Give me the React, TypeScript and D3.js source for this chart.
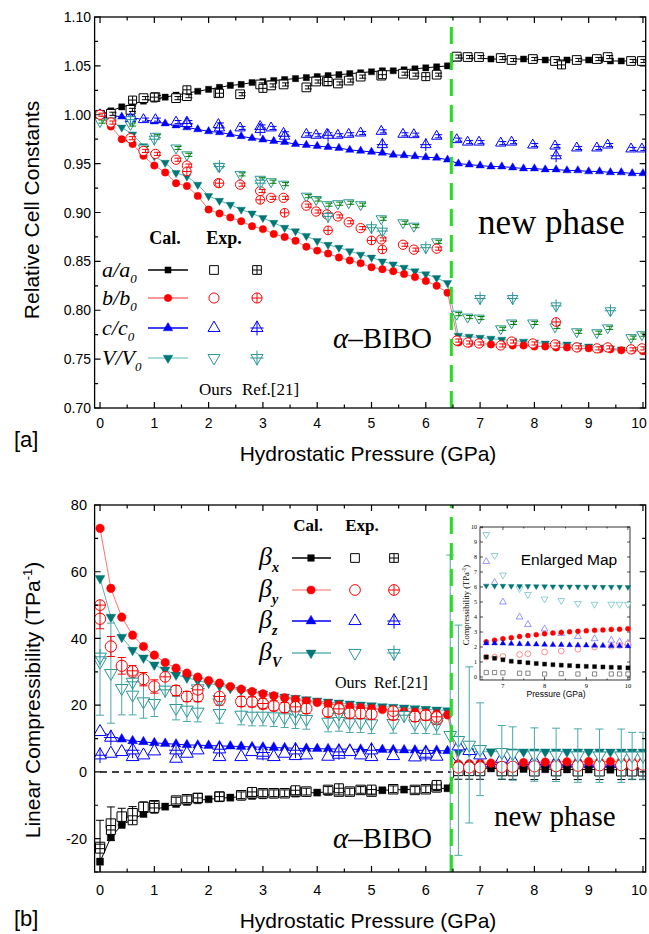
import React from "react";
import * as d3 from "d3";

// ---------------- DATA: top panel (relative cell constants) ----------------
const pCal = [0, 0.2, 0.4, 0.6, 0.8, 1.0, 1.2, 1.4, 1.6, 1.8, 2.0, 2.2, 2.4, 2.6, 2.8, 3.0, 3.2, 3.4, 3.6, 3.8, 4.0, 4.2, 4.4, 4.6, 4.8, 5.0, 5.2, 5.4, 5.6, 5.8, 6.0, 6.2, 6.4, 6.6, 6.8, 7.0, 7.2, 7.4, 7.6, 7.8, 8.0, 8.2, 8.4, 8.6, 8.8, 9.0, 9.2, 9.4, 9.6, 9.8, 10.0];
const aCal = [1.000, 1.004, 1.008, 1.011, 1.014, 1.016, 1.018, 1.020, 1.022, 1.024, 1.026, 1.028, 1.030, 1.031, 1.033, 1.034, 1.035, 1.036, 1.037, 1.038, 1.039, 1.040, 1.041, 1.042, 1.043, 1.044, 1.045, 1.045, 1.046, 1.047, 1.048, 1.049, 1.050, 1.058, 1.058, 1.058, 1.057, 1.057, 1.057, 1.057, 1.057, 1.056, 1.056, 1.056, 1.056, 1.056, 1.056, 1.055, 1.055, 1.055, 1.055];
const bCal = [1.000, 0.988, 0.975, 0.970, 0.958, 0.948, 0.941, 0.930, 0.927, 0.917, 0.903, 0.899, 0.895, 0.891, 0.886, 0.883, 0.878, 0.875, 0.871, 0.865, 0.861, 0.858, 0.854, 0.851, 0.848, 0.844, 0.842, 0.840, 0.837, 0.834, 0.830, 0.825, 0.818, 0.767, 0.766, 0.766, 0.765, 0.765, 0.764, 0.764, 0.763, 0.763, 0.762, 0.762, 0.761, 0.761, 0.760, 0.760, 0.759, 0.759, 0.758];
const cCal = [1.000, 0.999, 0.998, 0.997, 0.995, 0.993, 0.991, 0.989, 0.987, 0.985, 0.983, 0.982, 0.980, 0.978, 0.976, 0.9745, 0.973, 0.972, 0.970, 0.969, 0.968, 0.967, 0.966, 0.964, 0.963, 0.962, 0.961, 0.959, 0.9585, 0.9575, 0.9565, 0.956, 0.954, 0.950, 0.949, 0.948, 0.947, 0.947, 0.946, 0.945, 0.945, 0.944, 0.944, 0.943, 0.943, 0.942, 0.942, 0.941, 0.941, 0.940, 0.940];
const vCal = [1.000, 0.993, 0.987, 0.980, 0.968, 0.9575, 0.951, 0.9405, 0.937, 0.9285, 0.917, 0.912, 0.908, 0.903, 0.899, 0.8945, 0.8895, 0.8845, 0.881, 0.876, 0.871, 0.867, 0.864, 0.8605, 0.857, 0.854, 0.850, 0.847, 0.8436, 0.840, 0.837, 0.833, 0.828, 0.774, 0.773, 0.772, 0.771, 0.770, 0.769, 0.768, 0.767, 0.766, 0.766, 0.765, 0.764, 0.763, 0.762, 0.761, 0.760, 0.760, 0.759];

const expP = [0, 0.2, 0.56, 0.8, 1.02, 1.4, 1.6, 2.18, 2.58, 2.95, 3.15, 3.38, 3.8, 3.98, 4.18, 4.38, 4.58, 4.8, 5.18, 5.58, 5.78, 6.2, 6.57, 6.77, 6.98, 7.38, 7.58, 7.97, 8.38, 8.78, 9.15, 9.35, 9.78, 9.98];
const aExp = [1.000, 1.001, 1.005, 1.017, 1.018, 1.017, 1.019, 1.022, 1.021, 1.031, 1.030, 1.031, 1.028, 1.034, 1.034, 1.032, 1.035, 1.039, 1.040, 1.042, 1.041, 1.041, 1.0595, 1.059, 1.059, 1.058, 1.056, 1.057, 1.055, 1.056, 1.057, 1.059, 1.055, 1.055];
const bExp = [1.000, 0.992, 0.976, 0.963, 0.960, 0.954, 0.948, 0.930, 0.9285, 0.922, 0.915, 0.915, 0.907, 0.901, 0.898, 0.896, 0.890, 0.884, 0.8725, 0.867, 0.862, 0.863, 0.769, 0.767, 0.766, 0.764, 0.768, 0.766, 0.765, 0.762, 0.761, 0.762, 0.760, 0.761];
const cExp = [1.000, 1.000, 1.000, 0.995, 0.995, 0.9925, 0.9925, 0.990, 0.9865, 0.988, 0.9865, 0.981, 0.980, 0.979, 0.980, 0.979, 0.980, 0.9813, 0.983, 0.980, 0.9796, 0.978, 0.9745, 0.972, 0.972, 0.971, 0.972, 0.969, 0.968, 0.966, 0.966, 0.969, 0.965, 0.965];
const vExp = [0.993, 0.993, 0.990, 0.966, 0.978, 0.966, 0.959, 0.9473, 0.939, 0.934, 0.9315, 0.929, 0.9167, 0.9133, 0.908, 0.909, 0.910, 0.908, 0.8936, 0.8895, 0.886, 0.870, 0.796, 0.793, 0.792, 0.781, 0.787, 0.787, 0.783, 0.778, 0.777, 0.782, 0.772, 0.775];

const aRefP = [0.6, 1.0, 1.6, 2.2, 3.0, 4.2, 5.2, 6.0, 8.5];
const aRefV = [1.015, 1.018, 1.0255, 1.022, 1.027, 1.034, 1.041, 1.039, 1.051];
const bRefP = [1.6, 2.2, 2.95, 3.4, 4.2, 5.0, 5.2, 8.4];
const bRefV = [0.942, 0.930, 0.913, 0.8997, 0.8817, 0.8714, 0.8622, 0.788];
const cRefP = [0.56, 1.6, 2.2, 2.95, 3.4, 4.2, 5.2, 6.0, 8.4];
const cRefV = [0.996, 0.991, 0.9865, 0.985, 0.978, 0.979, 0.9694, 0.9694, 0.958];
const vRefP = [0.56, 1.0, 2.2, 2.95, 4.2, 5.0, 5.2, 6.0, 7.0, 7.6, 8.4, 9.4];
const vRefV = [0.995, 0.975, 0.947, 0.930, 0.896, 0.8844, 0.881, 0.864, 0.812, 0.812, 0.8045, 0.7995];

// ---------------- DATA: bottom panel (linear compressibility) ----------------
const bxCal = [-26.9, -19.6, -15.9, -14.2, -12.6, -11.4, -10.4, -9.6, -9.0, -8.5, -8.2, -7.9, -7.7, -7.4, -7.2, -7.0, -6.8, -6.6, -6.5, -6.3, -6.2, -6.0, -5.9, -5.8, -5.7, -5.6, -5.5, -5.4, -5.3, -5.2, -5.1, -5.0, -4.9, 1.33, 1.25, 1.15, 1.05, 1.0, 0.95, 0.9, 0.86, 0.82, 0.79, 0.76, 0.73, 0.71, 0.69, 0.67, 0.65, 0.63, 0.61];
const byCal = [73, 55, 46.4, 41, 37.6, 35, 32.8, 31.1, 29.6, 28.4, 27.4, 26.6, 25.6, 24.8, 24.1, 23.4, 22.8, 22.2, 21.7, 21.2, 20.8, 20.4, 20.0, 19.6, 19.3, 19.0, 18.7, 18.4, 18.1, 17.9, 17.6, 17.4, 17.1, 2.35, 2.45, 2.55, 2.62, 2.70, 2.76, 2.82, 2.88, 2.93, 2.97, 3.01, 3.05, 3.08, 3.11, 3.14, 3.17, 3.19, 3.22];
const bzCal = [12.2, 10.8, 9.8, 9.3, 9.0, 8.7, 8.5, 8.3, 8.1, 8.0, 7.9, 7.8, 7.7, 7.6, 7.5, 7.4, 7.3, 7.2, 7.1, 7.0, 6.95, 6.9, 6.85, 6.8, 6.75, 6.7, 6.65, 6.6, 6.55, 6.5, 6.45, 6.4, 6.3, 2.25, 2.25, 2.24, 2.22, 2.2, 2.19, 2.18, 2.16, 2.15, 2.14, 2.13, 2.12, 2.11, 2.10, 2.09, 2.08, 2.07, 2.06];
const bvCal = [58, 46.4, 40.4, 36.5, 34.2, 32.1, 30.6, 29.1, 28.2, 27.4, 26.6, 25.8, 25.1, 24.5, 23.9, 23.4, 22.9, 22.5, 22.1, 21.7, 21.3, 21.0, 20.7, 20.4, 20.1, 19.9, 19.6, 19.4, 19.2, 19.0, 18.8, 18.6, 18.4, 6.08, 6.07, 6.07, 6.06, 6.05, 6.05, 6.04, 6.04, 6.03, 6.03, 6.02, 6.02, 6.01, 6.01, 6.0, 6.0, 6.0, 5.99];

const bEP = [0, 0.2, 0.4, 0.6, 0.8, 1.0, 1.4, 1.6, 1.8, 2.2, 2.6, 2.8, 3.0, 3.2, 3.4, 3.6, 3.8, 4.2, 4.4, 4.6, 4.8, 5.0, 5.4, 5.8, 6.0, 6.2];
const bxExp = [-22.5, -15.5, -13.4, -12.4, -10.5, -10.0, -8.6, -8.2, -7.8, -7.4, -7.0, -6.4, -6.4, -6.4, -6.4, -5.9, -5.9, -5.4, -5.9, -5.9, -5.4, -5.9, -5.2, -5.4, -5.2, -4.6];
const bxErr = [8, 5, 2.5, 2, 1.5, 1.2, 1, 1, 1, 1, 1, 1, 1, 1, 1, 1, 1, 1, 1, 1, 1, 1, 1, 1, 1, 1];
const byExp = [45.9, 37.6, 31.8, 29.9, 27.8, 25.6, 24.4, 22.6, 22.6, 21.5, 21.1, 21.0, 20.4, 19.8, 19.3, 19.5, 19.0, 18.0, 18.5, 17.6, 17.5, 17.3, 17.1, 16.6, 17.0, 15.8];
const byErr = [3, 3, 2.5, 2, 2, 2, 1.5, 1.5, 1.5, 1.5, 1.5, 1.5, 1.5, 1.5, 1.5, 1.5, 1.5, 1.5, 1.5, 1.5, 1.5, 1.5, 1.5, 1.5, 1.5, 1.5];
const bzExp = [12.0, 5.5, 6.0, 4.5, 5.0, 6.2, 4.0, 5.5, 6.5, 4.5, 4.5, 6.0, 5.0, 4.5, 5.5, 4.8, 5.0, 4.6, 5.2, 6.0, 5.0, 4.5, 4.8, 4.4, 5.0, 4.6];
const bvExp = [33, 29.6, 25.1, 23.1, 21.1, 20.6, 19.1, 18.6, 18.0, 17.6, 17.1, 16.8, 16.8, 16.6, 16.3, 16.0, 15.8, 15.0, 15.2, 14.8, 14.8, 14.5, 14.6, 14.5, 14.5, 14.3];
const bvErr = [16, 15, 8, 6, 5, 4, 3.5, 3.5, 3, 3, 3, 3, 3, 3, 3, 3, 3, 3, 3, 3, 3, 3, 3, 3, 3, 3];

// points right at / after the transition
const bvTrP = [6.45];
const bvTrV = [11];
const bvTrErr = [54];
const bEP2 = [6.6, 6.8, 7.0, 7.4, 7.6, 8.0, 8.4, 8.8, 9.2, 9.6, 9.8, 10.0];
const bxExp2 = [0.3, 0.3, 0.28, 0.25, 0.25, 0.2, 0.22, 0.2, 0.2, 0.2, 0.2, 0.2];
const byExp2 = [1.33, 1.33, 1.37, 1.5, 1.55, 1.67, 1.73, 1.85, 2.0, 2.05, 2.1, 2.2];
const bzExp2 = [7.7, 6.3, 5.0, 4.0, 3.5, 3.2, 2.9, 2.7, 2.55, 2.45, 2.35, 2.25];
const bvExp2 = [9.5, 8.1, 6.8, 5.9, 5.5, 5.2, 5.1, 4.9, 4.85, 4.85, 4.85, 4.85];
const bvErr2 = [34.5, 23.4, 13.9, 8, 8, 8, 8, 8, 8, 8, 7, 7];
const bxErr2 = [2.5, 2.5, 2.5, 2.5, 2.5, 2.5, 2.5, 2.5, 2.5, 2.5, 2.5, 2.5];

const bxRefP = [0, 0.2, 0.6, 1.0, 1.8, 2.2, 2.8, 3.6, 4.4, 5.0, 6.2];
const bxRefV = [-23.0, -17.4, -14.5, -10.8, -7.8, -7.4, -6.0, -5.5, -4.9, -5.3, -3.9];
const byRefP = [0, 0.6, 1.2, 1.8, 2.2, 3.0, 3.6, 4.4, 5.4, 6.2];
const byRefV = [50, 30.3, 28.5, 24.6, 22.6, 20.5, 19.5, 18.9, 18.2, 16.5];
const bzRefP = [0, 0.2, 0.6, 1.4, 2.2, 3.0, 3.6, 4.4, 5.0, 6.0];
const bzRefV = [5.0, 10.3, 6.5, 6.5, 6.8, 5.8, 6.5, 6.0, 6.5, 5.5];
const bvRefP = [0, 0.6, 1.2, 1.8, 2.2, 3.6, 4.4, 5.6, 6.2];
const bvRefV = [34.5, 27, 24.6, 25, 21.8, 18.2, 17.6, 17.0, 16.0];

// ---------------- ticks ----------------
const xTicks = [0, 1, 2, 3, 4, 5, 6, 7, 8, 9, 10];
const xMinor = [0.5, 1.5, 2.5, 3.5, 4.5, 5.5, 6.5, 7.5, 8.5, 9.5];
const topYTicks = [0.7, 0.75, 0.8, 0.85, 0.9, 0.95, 1.0, 1.05, 1.1];
const topYMinor = [0.725, 0.775, 0.825, 0.875, 0.925, 0.975, 1.025, 1.075];
const botYTicks = [-20, 0, 20, 40, 60, 80];
const botYMinor = [-30, -10, 10, 30, 50, 70];
const inXTicks = [7, 8, 9, 10];
const inXMinor = [6.5, 7.5, 8.5, 9.5];
const inYTicks = [0, 1, 2, 3, 4, 5, 6, 7, 8, 9, 10];
const transitionP = 6.47;

// ---------------- styles ----------------
const ARIAL = "Arial, 'Liberation Sans', Helvetica, sans-serif";
const TIMES = "'Times New Roman', 'Liberation Serif', 'DejaVu Serif', serif";
const BLACK = "#000000";
const RED = "#ff0000";
const REDL = "#ff7070";
const BLUE = "#0000ff";
const TEALD = "#007676";
const TEAL = "#2a9696";
const TEALL = "#5db4b4";
const TEALE = "#4aa8a8";
const GREENBAR = "#008000";
const GREEN = "#22dd22";

const symType: any = { sq: d3.symbolSquare, ci: d3.symbolCircle, tu: d3.symbolTriangle, td: d3.symbolTriangle };

function Mk({ shape, x, y, area, color, filled, cross, sw = 1 }: any) {
  const d = d3.symbol().type(symType[shape]).size(area)() as string;
  const rot = shape === "td" ? "rotate(180)" : undefined;
  let h = 0;
  let hv = 0;
  if (shape === "sq") { h = Math.sqrt(area) / 2; hv = h; }
  else if (shape === "ci") { h = Math.sqrt(area / Math.PI); hv = h; }
  else { const L = Math.sqrt((4 * area) / Math.sqrt(3)); h = L * 0.55; hv = L * 0.62; }
  return (
    <g transform={`translate(${x},${y})`}>
      <path d={d} transform={rot} fill={filled ? color : "#ffffff"} stroke={color} strokeWidth={filled ? 0.4 : sw} />
      {cross ? <path d={`M${-h},0H${h}M0,${-hv}V${hv}`} stroke={color} strokeWidth={sw} fill="none" /> : null}
    </g>
  );
}

function Err({ x, y0, y1, color, cap = 4, sw = 1 }: any) {
  return (
    <path d={`M${x},${y0}V${y1}M${x - cap},${y0}H${x + cap}M${x - cap},${y1}H${x + cap}`} stroke={color} strokeWidth={sw} fill="none" />
  );
}

function Frame({ xs, ys, xMaj, xMin, yMaj, yMin, yFmt, labelX, xLabelY, fs, maj = 6, min = 3.5 }: any) {
  const [x0, x1] = xs.range();
  const [y0, y1] = ys.range(); // y0 bottom, y1 top
  const parts: string[] = [];
  xMaj.forEach((t: number) => { const X = xs(t); parts.push(`M${X},${y0}v${-maj}M${X},${y1}v${maj}`); });
  xMin.forEach((t: number) => { const X = xs(t); parts.push(`M${X},${y0}v${-min}M${X},${y1}v${min}`); });
  yMaj.forEach((t: number) => { const Y = ys(t); parts.push(`M${x0},${Y}h${maj}M${x1},${Y}h${-maj}`); });
  yMin.forEach((t: number) => { const Y = ys(t); parts.push(`M${x0},${Y}h${min}M${x1},${Y}h${-min}`); });
  return (
    <g>
      <rect x={x0} y={y1} width={x1 - x0} height={y0 - y1} fill="none" stroke={BLACK} strokeWidth={1.3} />
      <path d={parts.join("")} stroke={BLACK} strokeWidth={1.2} fill="none" />
      {xMaj.map((t: number) => (
        <text key={"x" + t} x={Math.min(xs(t), 639)} y={xLabelY} textAnchor="middle" fontFamily={ARIAL} fontSize={fs}>{t}</text>
      ))}
      {yMaj.map((t: number) => (
        <text key={"y" + t} x={labelX} y={ys(t) + fs * 0.36} textAnchor="end" fontFamily={ARIAL} fontSize={fs}>{yFmt(t)}</text>
      ))}
    </g>
  );
}

export default function App() {
  const xT = d3.scaleLinear().domain([-0.1, 10.05]).range([94.6, 645.7]);
  const yT = d3.scaleLinear().domain([0.7, 1.1]).range([408, 17]);
  const xB = d3.scaleLinear().domain([-0.1, 10.05]).range([94.6, 645.7]);
  const yB = d3.scaleLinear().domain([-30, 80]).range([872, 505]);
  const xI = d3.scaleLinear().domain([6.45, 10.05]).range([480, 630]);
  const yI = d3.scaleLinear().domain([-0.2, 10]).range([680, 527]);

  const lineT = (vals: number[]) => d3.line<number>().x((_, i) => xT(pCal[i])).y((v) => yT(v))(vals) as string;
  const lineB = (vals: number[]) => d3.line<number>().x((_, i) => xB(pCal[i])).y((v) => yB(v))(vals) as string;

  const topCal = [
    { v: cCal, shape: "tu", color: BLUE, line: BLUE, area: 30 },
    { v: aCal, shape: "sq", color: BLACK, line: BLACK, area: 38 },
    { v: vCal, shape: "td", color: TEALD, line: TEALL, area: 30 },
    { v: bCal, shape: "ci", color: RED, line: REDL, area: 44 },
  ];
  const topExp = [
    { v: cExp, shape: "tu", color: BLUE, bar: BLUE, area: 46 },
    { v: aExp, shape: "sq", color: BLACK, bar: BLACK, area: 76 },
    { v: vExp, shape: "td", color: TEAL, bar: GREENBAR, area: 46 },
    { v: bExp, shape: "ci", color: RED, bar: RED, area: 68 },
  ];
  const topRef = [
    { p: cRefP, v: cRefV, shape: "tu", color: BLUE, area: 46 },
    { p: aRefP, v: aRefV, shape: "sq", color: BLACK, area: 64 },
    { p: vRefP, v: vRefV, shape: "td", color: TEAL, area: 46 },
    { p: bRefP, v: bRefV, shape: "ci", color: RED, area: 60 },
  ];

  const botCal = [
    { v: bzCal, shape: "tu", color: BLUE, line: BLUE, area: 42 },
    { v: bxCal, shape: "sq", color: BLACK, line: BLACK, area: 50 },
    { v: bvCal, shape: "td", color: TEALD, line: TEALL, area: 42 },
    { v: byCal, shape: "ci", color: RED, line: REDL, area: 58 },
  ];
  const botExp = [
    { p: bEP, v: bzExp, e: null, shape: "tu", color: BLUE, area: 70 },
    { p: bEP, v: bxExp, e: bxErr, shape: "sq", color: BLACK, area: 90 },
    { p: bEP, v: bvExp, e: bvErr, shape: "td", color: TEAL, area: 70 },
    { p: bEP, v: byExp, e: byErr, shape: "ci", color: RED, area: 100 },
    { p: bvTrP, v: bvTrV, e: bvTrErr, shape: "td", color: TEAL, area: 70 },
    { p: bEP2, v: bzExp2, e: null, shape: "tu", color: BLUE, area: 70 },
    { p: bEP2, v: bxExp2, e: bxErr2, shape: "sq", color: BLACK, area: 90 },
    { p: bEP2, v: byExp2, e: null, shape: "ci", color: RED, area: 100 },
    { p: bEP2, v: bvExp2, e: bvErr2, shape: "td", color: TEAL, area: 70 },
  ];
  const botRef = [
    { p: bzRefP, v: bzRefV, shape: "tu", color: BLUE, area: 70 },
    { p: bxRefP, v: bxRefV, shape: "sq", color: BLACK, area: 80 },
    { p: bvRefP, v: bvRefV, shape: "td", color: TEAL, area: 70 },
    { p: byRefP, v: byRefV, shape: "ci", color: RED, area: 90 },
  ];
  const errColor: any = { sq: BLACK, ci: RED, tu: BLUE, td: TEALE };

  const inCal = [
    { v: bvCal, shape: "td", color: TEALD, area: 14 },
    { v: byCal, shape: "ci", color: RED, area: 20 },
    { v: bzCal, shape: "tu", color: BLUE, area: 14 },
    { v: bxCal, shape: "sq", color: BLACK, area: 16 },
  ];
  const inExp = [
    { v: bvExp2, shape: "td", color: "#5fbcbc", area: 20 },
    { v: bzExp2, shape: "tu", color: "#6a6aff", area: 20 },
    { v: byExp2, shape: "ci", color: "#ff6060", area: 26 },
    { v: bxExp2, shape: "sq", color: "#555555", area: 18 },
  ];

  const topLegend = [
    { y: 270, lab: ["a", "a"], shape: "sq", color: BLACK, ocolor: BLACK, line: BLACK, ca: 38, ea: 76 },
    { y: 298, lab: ["b", "b"], shape: "ci", color: RED, ocolor: RED, line: REDL, ca: 44, ea: 80 },
    { y: 328, lab: ["c", "c"], shape: "tu", color: BLUE, ocolor: BLUE, line: BLUE, ca: 40, ea: 62 },
    { y: 358, lab: ["V", "V"], shape: "td", color: TEALD, ocolor: TEAL, line: "#8fd0d0", ca: 40, ea: 62 },
  ];
  const botLegend = [
    { y: 558, sub: "x", shape: "sq", color: BLACK, ocolor: BLACK, line: BLACK, ca: 44, ea: 76 },
    { y: 590, sub: "y", shape: "ci", color: RED, ocolor: RED, line: "#ff9a9a", ca: 52, ea: 90 },
    { y: 621, sub: "z", shape: "tu", color: BLUE, ocolor: BLUE, line: BLUE, ca: 44, ea: 66 },
    { y: 653, sub: "V", shape: "td", color: TEALD, ocolor: TEAL, line: TEALL, ca: 44, ea: 66 },
  ];

  const xTr = xT(transitionP);

  return (
    <svg width={649} height={934} style={{ position: "absolute", left: 0, top: 0, background: "#ffffff" }} xmlns="http://www.w3.org/2000/svg">
      <defs>
        <clipPath id="clipTop"><rect x={94.6} y={17} width={551.1} height={391} /></clipPath>
        <clipPath id="clipBot"><rect x={94.6} y={505} width={551.1} height={367} /></clipPath>
      </defs>
      <rect x={0} y={0} width={649} height={934} fill="#ffffff" />

      {/* ================= TOP PANEL ================= */}
      <g clipPath="url(#clipTop)">
        {topCal.map((s, k) => (
          <path key={"tl" + k} d={lineT(s.v)} fill="none" stroke={s.line} strokeWidth={1} />
        ))}
        {topCal.map((s, k) => (
          <g key={"tc" + k}>
            {s.v.map((v, i) => (
              <Mk key={i} shape={s.shape} x={xT(pCal[i])} y={yT(v)} area={s.area} color={s.color} filled />
            ))}
          </g>
        ))}
        {topExp.map((s, k) => (
          <g key={"te" + k}>
            {s.v.map((v, i) => (
              <Mk key={i} shape={s.shape} x={xT(expP[i])} y={yT(v)} area={s.area} color={s.color} />
            ))}
            {s.v.map((v, i) => (
              <Err key={"e" + i} x={xT(expP[i]) + 2} y0={yT(v + 0.0016)} y1={yT(v - 0.0016)} color={s.bar} cap={3.5} sw={1} />
            ))}
          </g>
        ))}
        {topRef.map((s, k) => (
          <g key={"tr" + k}>
            {s.v.map((v, i) => (
              <Mk key={i} shape={s.shape} x={xT(s.p[i])} y={yT(v)} area={s.area} color={s.color} cross />
            ))}
          </g>
        ))}
      </g>
      <line x1={xTr} x2={xTr} y1={yT(0.7)} y2={yT(1.1)} stroke={GREEN} strokeWidth={3} strokeDasharray="17,9" />
      <Frame xs={xT} ys={yT} xMaj={xTicks} xMin={xMinor} yMaj={topYTicks} yMin={topYMinor} yFmt={d3.format(".2f")} labelX={91} xLabelY={428} fs={14} />

      {/* top legend */}
      <text x={165} y={244} textAnchor="middle" fontFamily={TIMES} fontWeight="bold" fontSize={18}>Cal.</text>
      <text x={224} y={244} textAnchor="middle" fontFamily={TIMES} fontWeight="bold" fontSize={18}>Exp.</text>
      {topLegend.map((r, k) => (
        <g key={"tlg" + k}>
          <text x={102} y={r.y + 7} fontFamily={TIMES} fontStyle="italic" fontSize={22}>
            {r.lab[0]}/{r.lab[1]}<tspan fontSize={13} dy={6}>0</tspan>
          </text>
          <line x1={148} x2={188} y1={r.y} y2={r.y} stroke={r.line} strokeWidth={1.3} />
          <Mk shape={r.shape} x={168} y={r.y} area={r.ca} color={r.color} filled />
          <Mk shape={r.shape} x={214} y={r.y} area={r.ea} color={r.ocolor} />
          <Mk shape={r.shape} x={257} y={r.y} area={r.ea} color={r.ocolor} cross />
        </g>
      ))}
      <text y={395} fontFamily={TIMES} fontSize={17}>
        <tspan x={199}>Ours</tspan>
        <tspan x={242}>Ref.[21]</tspan>
      </text>
      <text x={333} y={348} fontFamily={TIMES} fontSize={29}>
        <tspan fontStyle="italic">α</tspan>–BIBO
      </text>
      <text x={478} y={234} fontFamily={TIMES} fontSize={35}>new phase</text>

      {/* top axis titles */}
      <text transform="translate(39,210) rotate(-90)" textAnchor="middle" fontFamily={ARIAL} fontSize={21}>Relative Cell Constants</text>
      <text x={368} y={461} textAnchor="middle" fontFamily={ARIAL} fontSize={21}>Hydrostatic Pressure (GPa)</text>
      <text x={14} y={447} fontFamily={ARIAL} fontSize={22}>[a]</text>

      {/* ================= BOTTOM PANEL ================= */}
      <line x1={xB(0)} x2={xB(transitionP)} y1={yB(0)} y2={yB(0)} stroke={BLACK} strokeWidth={1.5} strokeDasharray="7,5" />
      <g clipPath="url(#clipBot)">
        {botCal.map((s, k) => (
          <path key={"bl" + k} d={lineB(s.v)} fill="none" stroke={s.line} strokeWidth={1} />
        ))}
        {botCal.map((s, k) => (
          <g key={"bc" + k}>
            {s.v.map((v, i) => (
              <Mk key={i} shape={s.shape} x={xB(pCal[i])} y={yB(v)} area={s.area} color={s.color} filled />
            ))}
          </g>
        ))}
        {botExp.map((s, k) => (
          <g key={"be" + k}>
            {s.v.map((v, i) => (
              <Mk key={i} shape={s.shape} x={xB(s.p[i])} y={yB(v)} area={s.area} color={s.color} />
            ))}
            {s.e ? s.v.map((v, i) => (
              <Err key={"e" + i} x={xB(s.p[i])} y0={yB(v + (s.e as number[])[i])} y1={yB(v - (s.e as number[])[i])} color={errColor[s.shape]} cap={4} sw={1} />
            )) : null}
          </g>
        ))}
        {botRef.map((s, k) => (
          <g key={"br" + k}>
            {s.v.map((v, i) => (
              <Mk key={i} shape={s.shape} x={xB(s.p[i])} y={yB(v)} area={s.area} color={s.color} cross />
            ))}
          </g>
        ))}
      </g>
      <line x1={xTr} x2={xTr} y1={yB(-30)} y2={yB(80)} stroke={GREEN} strokeWidth={3} strokeDasharray="17,9" />
      <Frame xs={xB} ys={yB} xMaj={xTicks} xMin={xMinor} yMaj={botYTicks} yMin={botYMinor} yFmt={(t: number) => String(t)} labelX={87} xLabelY={895} fs={14.5} />

      {/* bottom legend */}
      <text x={308} y={531} textAnchor="middle" fontFamily={TIMES} fontWeight="bold" fontSize={17}>Cal.</text>
      <text x={362} y={531} textAnchor="middle" fontFamily={TIMES} fontWeight="bold" fontSize={17}>Exp.</text>
      {botLegend.map((r, k) => (
        <g key={"blg" + k}>
          <text x={259} y={r.y + 7} fontFamily={TIMES} fontStyle="italic" fontSize={26}>
            β<tspan fontSize={14} fontWeight="bold" dy={7}>{r.sub}</tspan>
          </text>
          <line x1={292} x2={331} y1={r.y} y2={r.y} stroke={r.line} strokeWidth={1.3} />
          <Mk shape={r.shape} x={311} y={r.y} area={r.ca} color={r.color} filled />
          <Mk shape={r.shape} x={355} y={r.y} area={r.ea} color={r.ocolor} />
          <Mk shape={r.shape} x={394} y={r.y} area={r.ea} color={r.ocolor} cross />
        </g>
      ))}
      <text y={688} fontFamily={TIMES} fontSize={16}>
        <tspan x={335}>Ours</tspan>
        <tspan x={374}>Ref.[21]</tspan>
      </text>
      <text x={333} y={848} fontFamily={TIMES} fontSize={29}>
        <tspan fontStyle="italic">α</tspan>–BIBO
      </text>
      <text x={494} y={826} fontFamily={TIMES} fontSize={29}>new phase</text>

      {/* inset */}
      <g>
        <rect x={480} y={527} width={150} height={153} fill="#ffffff" stroke={BLACK} strokeWidth={0.8} />
        <path
          d={
            inXTicks.map((t) => `M${xI(t)},680v-3M${xI(t)},527v3`).join("") +
            inXMinor.map((t) => `M${xI(t)},680v-1.5M${xI(t)},527v1.5`).join("") +
            inYTicks.map((t) => `M480,${yI(t)}h3M630,${yI(t)}h-3`).join("")
          }
          stroke={BLACK}
          strokeWidth={0.7}
          fill="none"
        />
        {inXTicks.map((t) => (
          <text key={"ix" + t} x={xI(t)} y={688} textAnchor="middle" fontFamily={TIMES} fontSize={6.5}>{t}</text>
        ))}
        {inYTicks.map((t) => (
          <text key={"iy" + t} x={477} y={yI(t) + 2.2} textAnchor="end" fontFamily={TIMES} fontSize={6}>{t}</text>
        ))}
        <text x={556} y={697} textAnchor="middle" fontFamily={ARIAL} fontSize={8.5}>Pressure (GPa)</text>
        <text transform="translate(469,605) rotate(-90)" textAnchor="middle" fontFamily={TIMES} fontSize={8.5}>
          Compressibility (TPa<tspan fontSize={5.5} dy={-3}>-1</tspan><tspan dy={3}>)</tspan>
        </text>
        <text x={569} y={565} textAnchor="middle" fontFamily={ARIAL} fontSize={15.5}>Enlarged Map</text>
        {inExp.map((s, k) => (
          <g key={"ie" + k}>
            {s.v.map((v, i) => (
              <Mk key={i} shape={s.shape} x={xI(bEP2[i])} y={yI(v)} area={s.area} color={s.color} sw={0.7} />
            ))}
          </g>
        ))}
        {inCal.map((s, k) => (
          <g key={"ic" + k}>
            {s.v.slice(33).map((v, i) => (
              <Mk key={i} shape={s.shape} x={xI(pCal[33 + i])} y={yI(v)} area={s.area} color={s.color} filled />
            ))}
          </g>
        ))}
      </g>

      {/* bottom axis titles */}
      <text transform="translate(40,700) rotate(-90)" textAnchor="middle" fontFamily={ARIAL} fontSize={21}>
        Linear Compressibility (TPa<tspan fontSize={13} dy={-8}>-1</tspan><tspan dy={8}>)</tspan>
      </text>
      <text x={368} y={928} textAnchor="middle" fontFamily={ARIAL} fontSize={21}>Hydrostatic Pressure (GPa)</text>
      <text x={14} y={926} fontFamily={ARIAL} fontSize={22}>[b]</text>
    </svg>
  );
}
